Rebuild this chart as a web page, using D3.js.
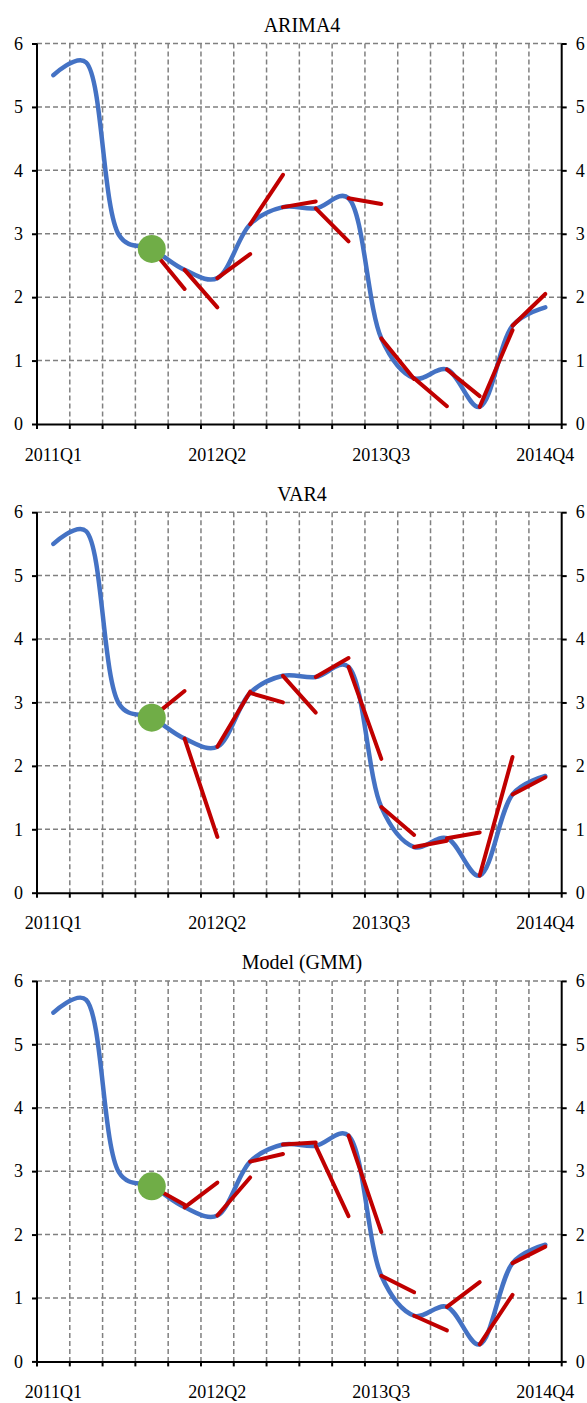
<!DOCTYPE html>
<html>
<head>
<meta charset="utf-8">
<script src="https://cdn.jsdelivr.net/npm/d3@7"></script>
<style>
  body { margin: 0; background: #fff; }
  svg { display: block; }
  text { font-family: "Liberation Serif", "Times New Roman", serif; fill: #000; }
</style>
</head>
<body>
<svg id="chart" width="587" height="1403"></svg>
<script>
// quarters on the category axis
var quarters = ["2011Q1", "2011Q2", "2011Q3", "2011Q4",
  "2012Q1", "2012Q2", "2012Q3", "2012Q4",
  "2013Q1", "2013Q2", "2013Q3", "2013Q4",
  "2014Q1", "2014Q2", "2014Q3", "2014Q4"];
var shownLabels = ["2011Q1", "2012Q2", "2013Q3", "2014Q4"];
var yTicks = [0, 1, 2, 3, 4, 5, 6];

// actual series (blue)
var actual = [5.5, 5.7, 2.98, 2.76, 2.43, 2.3, 3.15, 3.42, 3.4, 3.56, 1.35, 0.72, 0.86, 0.27, 1.55, 1.84];
// highlighted point (green)
var highlightIndex = 3;

// one step ahead forecasts, for quarters 2012Q1 .. 2014Q4 (red)
var forecastStart = 4;
var arimaForecast = [2.13, 1.84, 2.68, 3.93, 3.51, 2.88, 3.47, 0.71, 0.28, 0.44, 1.48, 2.05];
var varForecast = [3.18, 0.88, 3.17, 3.0, 2.84, 3.70, 2.11, 0.91, 0.82, 0.95, 2.14, 1.82];
var gmmForecast = [2.47, 2.82, 2.9, 3.27, 3.45, 2.29, 2.04, 1.09, 0.49, 1.25, 1.05, 1.81];

var panels = [
  { title: "ARIMA4", forecast: arimaForecast },
  { title: "VAR4", forecast: varForecast },
  { title: "Model (GMM)", forecast: gmmForecast }
];

var svg = d3.select("#chart"),
  margin = { top: 43.5, left: 37, right: 25.3 },
  plotHeight = 380.5,
  panelStep = 468.7,
  width = 587 - margin.left - margin.right;

var x = d3.scaleBand()
  .domain(quarters)
  .range([0, width])
  .paddingInner(0)
  .paddingOuter(0);

var y = d3.scaleLinear()
  .domain([0, 6])
  .range([plotHeight, 0]);

function cx(i) {
  return x(quarters[i]) + x.bandwidth() / 2;
}

var line = d3.line()
  .x(function(d, i) { return cx(i); })
  .y(function(d) { return y(d); })
  .curve(d3.curveCatmullRom.alpha(0.35));

panels.forEach(function(p, k) {
  var g = svg.append("g")
    .attr("transform", "translate(" + margin.left + "," + (margin.top + k * panelStep) + ")");

  g.append("text")
    .attr("x", 265)
    .attr("y", -11.5)
    .attr("text-anchor", "middle")
    .style("font-size", "20px")
    .text(p.title);

  // grid
  g.append("g").selectAll("line")
    .data(yTicks.filter(function(t) { return t > 0; }))
    .enter().append("line")
    .attr("x1", 0).attr("x2", width)
    .attr("y1", function(d) { return y(d); })
    .attr("y2", function(d) { return y(d); })
    .attr("stroke", "#808080")
    .attr("stroke-width", 1.5)
    .attr("stroke-dasharray", "5,3");

  g.append("g").selectAll("line")
    .data(quarters.slice(1))
    .enter().append("line")
    .attr("x1", function(d) { return x(d); })
    .attr("x2", function(d) { return x(d); })
    .attr("y1", 0).attr("y2", plotHeight)
    .attr("stroke", "#808080")
    .attr("stroke-width", 1.5)
    .attr("stroke-dasharray", "5,3");

  // axes
  var left = g.append("g")
    .call(d3.axisLeft(y).tickValues(yTicks).tickSize(5).tickPadding(9).tickFormat(d3.format("d")));
  var right = g.append("g")
    .attr("transform", "translate(" + width + ",0)")
    .call(d3.axisRight(y).tickValues(yTicks).tickSize(5).tickPadding(9).tickFormat(d3.format("d")));
  var bottom = g.append("g")
    .attr("transform", "translate(0," + plotHeight + ")")
    .call(d3.axisBottom(x).tickSize(0).tickPadding(24)
      .tickFormat(function(d) { return shownLabels.indexOf(d) >= 0 ? d : ""; }));

  bottom.append("g").selectAll("line")
    .data(quarters.concat(["end"]))
    .enter().append("line")
    .attr("x1", function(d, i) { return i * x.bandwidth(); })
    .attr("x2", function(d, i) { return i * x.bandwidth(); })
    .attr("y1", 0).attr("y2", 5)
    .attr("stroke", "#000")
    .attr("stroke-width", 2);

  [left, right, bottom].forEach(function(a) {
    a.select(".domain").attr("stroke", "#000").attr("stroke-width", 2);
    a.selectAll(".tick line").attr("stroke", "#000").attr("stroke-width", 2);
    a.selectAll("text").style("font-size", "18px").attr("fill", "#000")
      .style("font-family", "'Liberation Serif', serif");
  });
  left.select(".domain").attr("d", "M0," + (plotHeight + 1) + "V0");
  right.select(".domain").attr("d", "M0," + (plotHeight + 1) + "V0");

  // actual line
  g.append("path")
    .datum(actual)
    .attr("d", line)
    .attr("fill", "none")
    .attr("stroke", "#4472C4")
    .attr("stroke-width", 4.5)
    .attr("stroke-linecap", "round");

  // forecast segments
  g.append("g").selectAll("line")
    .data(p.forecast)
    .enter().append("line")
    .attr("x1", function(d, i) { return cx(forecastStart + i - 1); })
    .attr("y1", function(d, i) { return y(actual[forecastStart + i - 1]); })
    .attr("x2", function(d, i) { return cx(forecastStart + i); })
    .attr("y2", function(d) { return y(d); })
    .attr("stroke", "#C00000")
    .attr("stroke-width", 4)
    .attr("stroke-linecap", "round");

  g.append("circle")
    .attr("cx", cx(highlightIndex))
    .attr("cy", y(actual[highlightIndex]))
    .attr("r", 14)
    .attr("fill", "#70AD47");
});
</script>
</body>
</html>
